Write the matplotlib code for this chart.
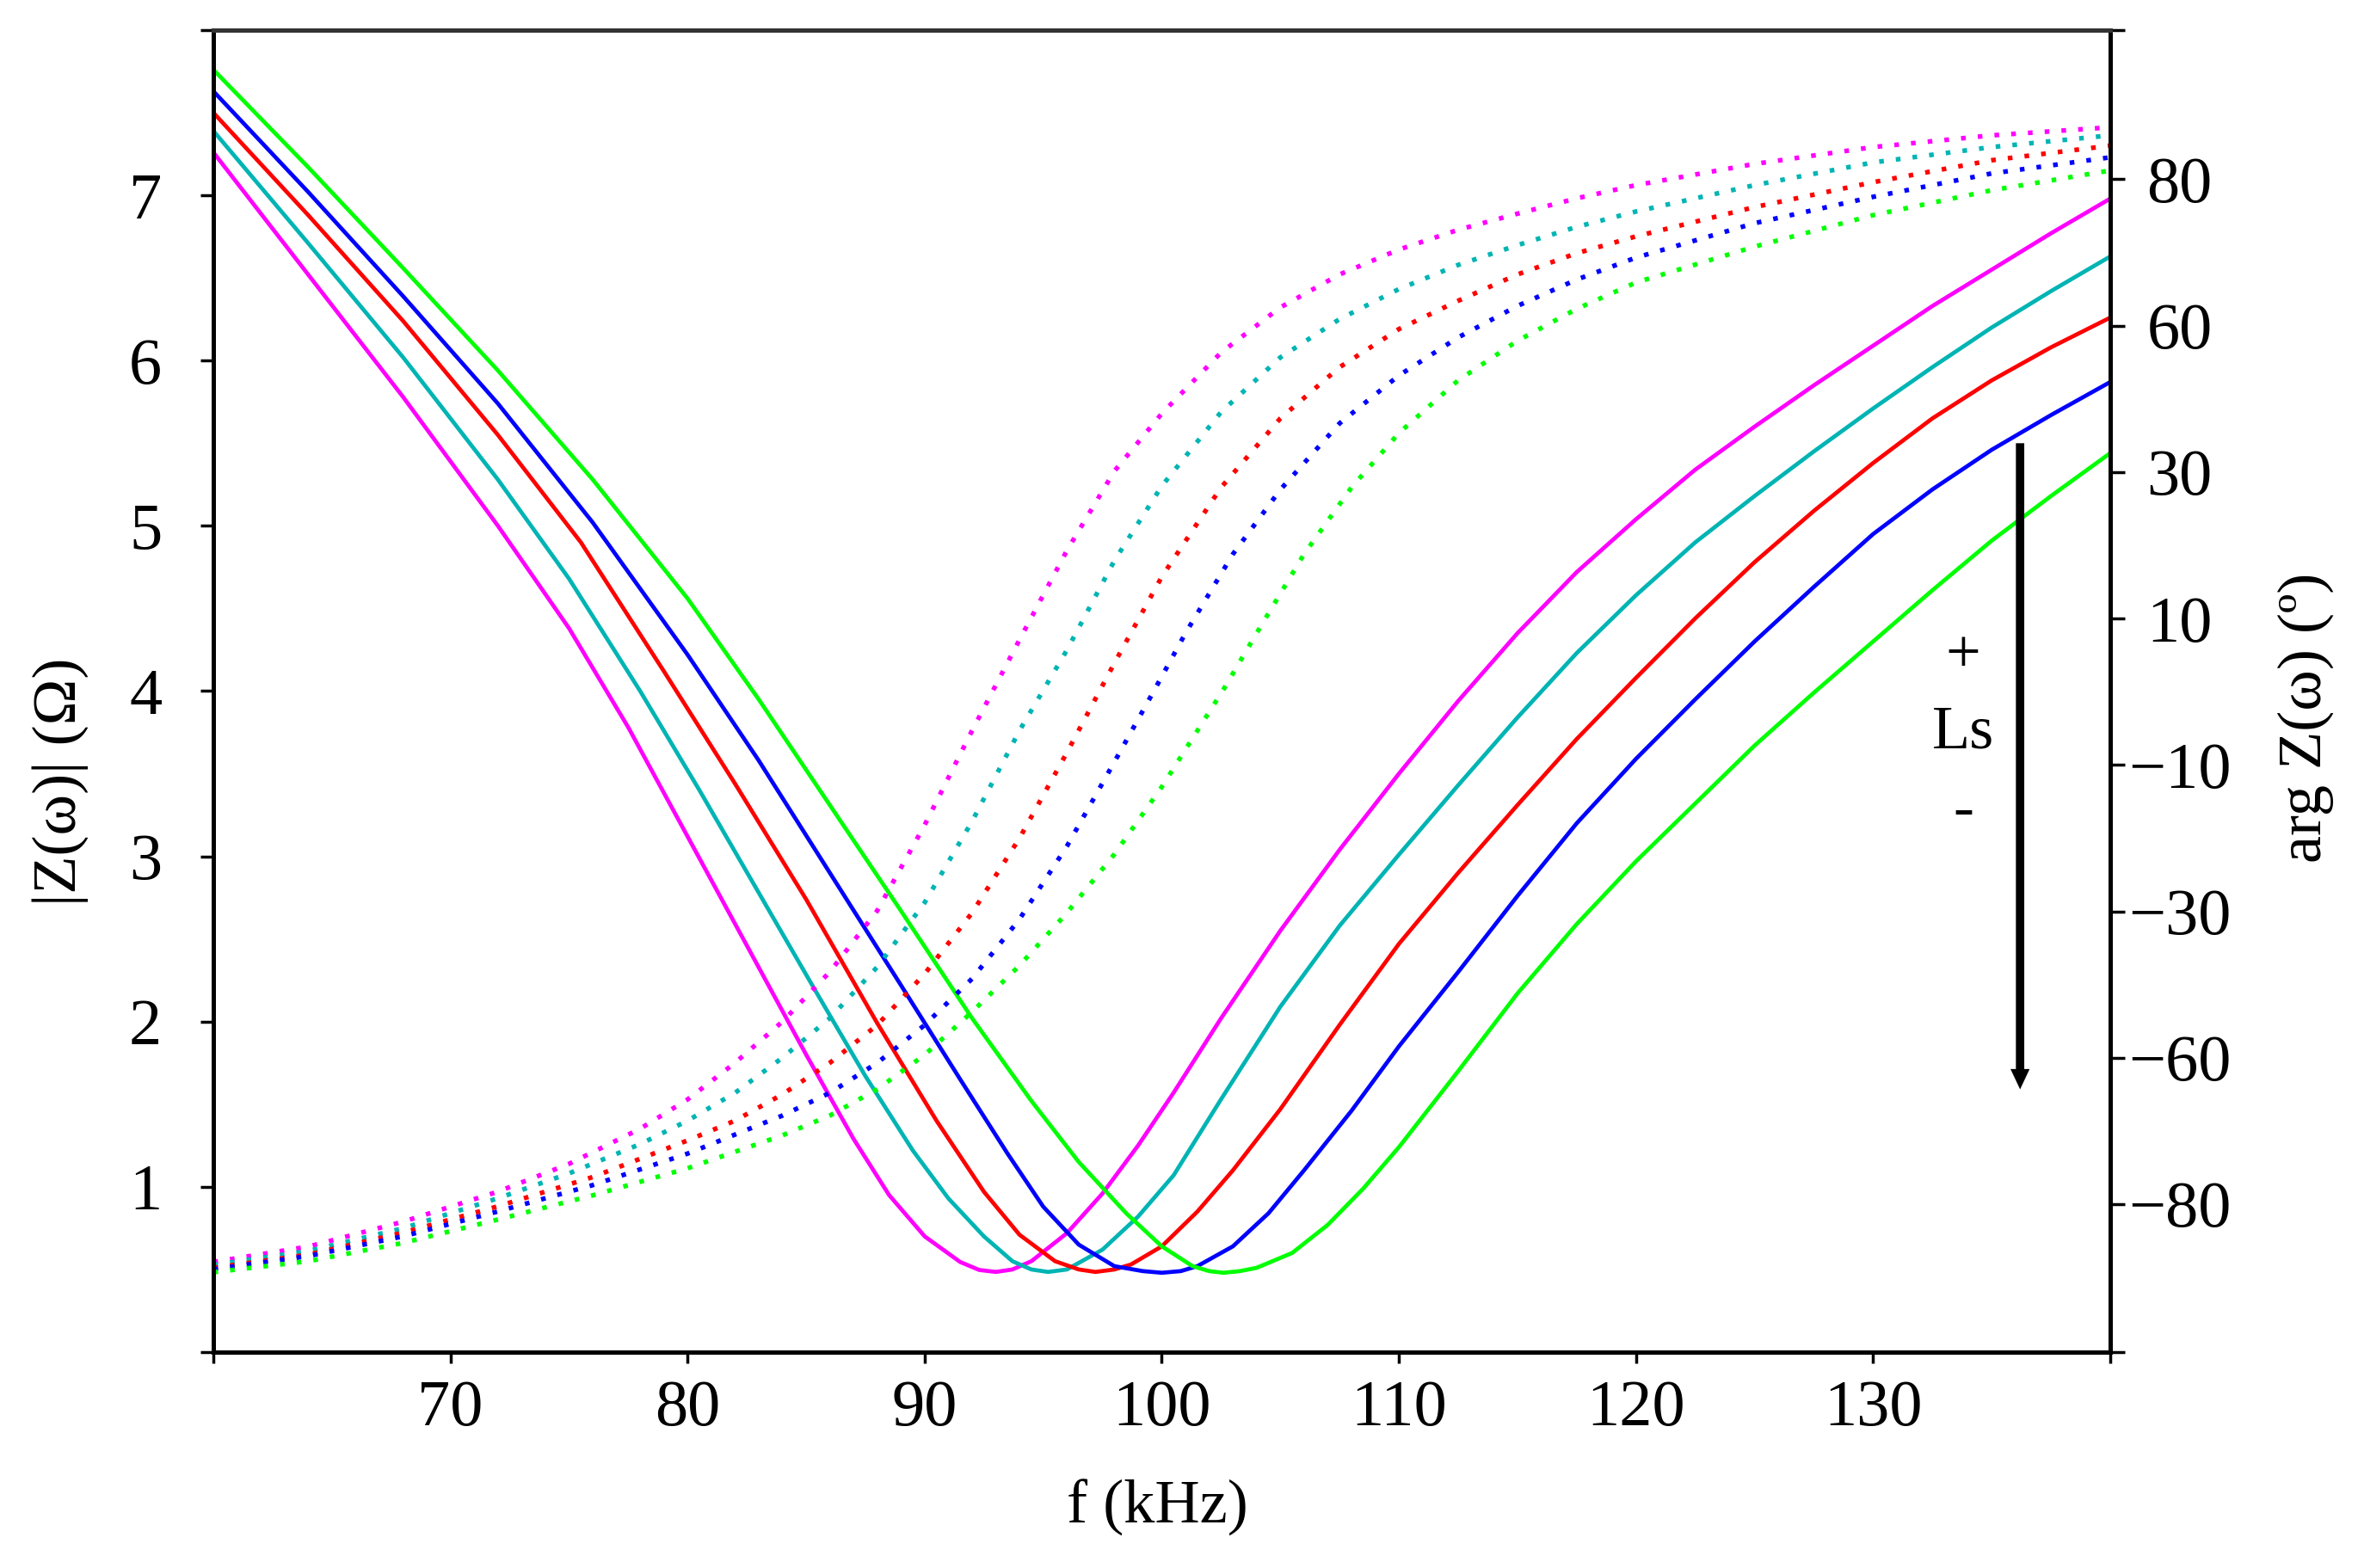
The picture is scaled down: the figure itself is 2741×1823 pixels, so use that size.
import numpy as np
import matplotlib
matplotlib.use("Agg")
import matplotlib.pyplot as plt

plt.rcParams["font.family"] = ["Liberation Serif", "DejaVu Serif"]

# |Z| curves (solid), f in kHz, |Z| in ohm
mag_f_m = [60, 64, 68, 72, 75, 77.5, 80, 82.5, 85, 87, 88.5, 90, 91.5, 92.3, 93.0, 93.7, 94.5, 96, 97.5,
           99, 100.5, 102.5, 105, 107.5, 110, 112.5, 115, 117.5, 120, 122.5, 125, 127.5, 130, 132.5,
           135, 137.5, 140]
mag_z_m = [7.26, 6.52, 5.78, 5.00, 4.38, 3.78, 3.12, 2.46, 1.80, 1.29, 0.95, 0.70, 0.545, 0.497, 0.485,
           0.50, 0.55, 0.72, 0.96, 1.25, 1.57, 2.02, 2.55, 3.04, 3.50, 3.94, 4.35, 4.72, 5.04, 5.34,
           5.60, 5.85, 6.09, 6.33, 6.55, 6.77, 6.98]

mag_f_c = [60, 64, 68, 72, 75, 78, 80.5, 83, 85.5, 87.5, 89.5, 91, 92.5, 93.7, 94.5, 95.2, 96, 97.5, 99,
           100.5, 102.5, 105, 107.5, 110, 112.5, 115, 117.5, 120, 122.5, 125, 127.5, 130, 132.5, 135,
           137.5, 140]
mag_z_c = [7.39, 6.71, 6.02, 5.28, 4.68, 4.00, 3.40, 2.78, 2.16, 1.67, 1.22, 0.93, 0.70, 0.55, 0.50,
           0.485, 0.50, 0.62, 0.82, 1.07, 1.53, 2.09, 2.58, 3.01, 3.43, 3.84, 4.23, 4.58, 4.90, 5.18,
           5.45, 5.71, 5.96, 6.20, 6.42, 6.63]

mag_f_r = [60, 64, 68, 72, 75.5, 79, 82, 85, 88, 90.5, 92.5, 94, 95.5, 96.5, 97.2, 98, 98.7, 100, 101.5,
           103, 105, 107.5, 110, 112.5, 115, 117.5, 120, 122.5, 125, 127.5, 130, 132.5, 135, 137.5, 140]
mag_z_r = [7.50, 6.88, 6.24, 5.55, 4.90, 4.12, 3.44, 2.74, 1.99, 1.40, 0.97, 0.71, 0.55, 0.50, 0.485,
           0.50, 0.53, 0.64, 0.85, 1.10, 1.47, 1.98, 2.47, 2.90, 3.31, 3.71, 4.08, 4.44, 4.78, 5.09,
           5.38, 5.65, 5.88, 6.08, 6.26]

mag_f_b = [60, 64, 68, 72, 76, 80, 83, 86, 89, 91.5, 93.5, 95, 96.5, 98, 99.2, 100, 100.8, 101.5, 103,
           104.5, 106, 108, 110, 112.5, 115, 117.5, 120, 122.5, 125, 127.5, 130, 132.5, 135, 137.5, 140]
mag_z_b = [7.63, 7.02, 6.39, 5.74, 5.02, 4.22, 3.58, 2.90, 2.22, 1.65, 1.20, 0.88, 0.65, 0.52, 0.49,
           0.48, 0.49, 0.52, 0.64, 0.84, 1.10, 1.46, 1.85, 2.30, 2.76, 3.20, 3.59, 3.95, 4.30, 4.63,
           4.95, 5.22, 5.46, 5.67, 5.87]

mag_f_g = [60, 64, 68, 72, 76, 80, 83, 86, 89, 92, 94.5, 96.5, 98.5, 100, 101.3, 102, 102.6, 103.3, 104,
           105.5, 107, 108.5, 110, 112.5, 115, 117.5, 120, 122.5, 125, 127.5, 130, 132.5, 135, 137.5, 140]
mag_z_g = [7.76, 7.17, 6.56, 5.94, 5.28, 4.56, 3.95, 3.31, 2.67, 2.02, 1.52, 1.15, 0.84, 0.64, 0.52,
           0.49, 0.48, 0.49, 0.51, 0.60, 0.77, 0.99, 1.24, 1.70, 2.17, 2.59, 2.97, 3.32, 3.67, 3.99,
           4.30, 4.61, 4.91, 5.18, 5.44]

# arg Z curves (dotted), degrees
ph_f_m = [60, 64, 68, 72, 75, 78, 80, 82, 84, 86, 88, 90, 92, 94, 96, 98, 100, 102.5, 105, 107.5, 110,
          112.5, 115, 117.5, 120, 125, 130, 135, 140]
ph_d_m = [-87.9, -85.8, -82.4, -78.3, -74.5, -69.7, -65.7, -60.7, -52.6, -42.4, -29.9, -18.2, -5.3, 7.1,
          19.3, 30.2, 42.0, 54.5, 62.5, 67.0, 70.4, 73.1, 75.3, 77.4, 79.2, 82.1, 84.4, 86.0, 87.1]

ph_f_c = [60, 64, 68, 72, 75, 78, 80, 82, 84, 86, 88, 90, 92, 94, 96, 98, 100, 102.5, 105, 107.5, 110,
          112.5, 115, 117.5, 120, 125, 130, 135, 140]
ph_d_c = [-88.3, -86.4, -83.3, -79.2, -75.8, -71.8, -68.6, -64.8, -60.0, -51.9, -41.4, -28.8, -17.7,
          -5.3, 5.7, 17.9, 28.1, 42.3, 53.5, 60.9, 65.0, 68.3, 71.0, 73.5, 75.6, 79.2, 82.3, 84.4, 86.0]

ph_f_r = [60, 64, 68, 72, 76, 80, 82, 84, 86, 88, 90, 92, 94, 96, 98, 100, 102.5, 105, 107.5, 110, 112.5,
          115, 117.5, 120, 125, 130, 135, 140]
ph_d_r = [-88.7, -86.9, -83.9, -80.3, -76.3, -71.3, -68.6, -65.0, -60.7, -53.3, -42.8, -30.3, -20.0,
          -8.3, 3.9, 15.7, 27.9, 41.0, 51.5, 59.3, 63.4, 67.0, 69.9, 72.2, 76.2, 79.6, 82.6, 84.6]

ph_f_b = [60, 64, 68, 72, 76, 80, 84, 86, 88, 90, 92, 94, 96, 98, 99.7, 101, 103, 105, 107.5, 110, 112.5,
          115, 117.5, 120, 125, 130, 135, 140]
ph_d_b = [-88.9, -87.1, -84.4, -81.0, -77.4, -73.1, -67.9, -64.8, -60.7, -53.3, -43.8, -31.6, -21.1,
          -9.6, 0.3, 8.0, 18.8, 27.6, 40.0, 49.8, 57.6, 62.7, 66.3, 69.3, 74.0, 77.6, 80.8, 83.0]

ph_f_g = [60, 64, 68, 72, 76, 80, 84, 86, 88, 90, 92, 94, 96, 98, 100, 102.6, 104, 106, 108, 110, 112.5,
          115, 117.5, 120, 125, 130, 135, 140]
ph_d_g = [-89.3, -87.8, -85.3, -82.1, -78.8, -75.1, -70.6, -67.9, -64.3, -59.4, -50.6, -41.1, -30.3,
          -22.2, -13.0, 0.3, 8.0, 18.8, 27.9, 38.0, 48.8, 56.9, 62.3, 65.9, 70.8, 75.1, 78.5, 81.2]

colors = ["#FF00FF", "#00B4B4", "#FF0000", "#0000FF", "#00FF00"]
mag_series = [(mag_f_m, mag_z_m), (mag_f_c, mag_z_c), (mag_f_r, mag_z_r),
              (mag_f_b, mag_z_b), (mag_f_g, mag_z_g)]
ph_series = [(ph_f_m, ph_d_m), (ph_f_c, ph_d_c), (ph_f_r, ph_d_r),
             (ph_f_b, ph_d_b), (ph_f_g, ph_d_g)]

# right axis: evenly spaced but non-linear degree ticks
phase_ticks = [-80, -60, -30, -10, 10, 30, 60, 80]
deg_nodes = [-200, -100.21, -80, -60, -30, -10, 10, 30, 60, 80, 100.38, 200]
idx_nodes = [-6.0, -1.0106, 0, 1, 2, 3, 4, 5, 6, 7, 8.019, 13.0]


def fwd(d):
    return np.interp(d, deg_nodes, idx_nodes)


def inv(i):
    return np.interp(i, idx_nodes, deg_nodes)


FS = 52
TFS = 55

fig = plt.figure(figsize=(27.41, 18.23), dpi=100)
ax = fig.add_axes([0.0905, 0.1377, 0.8044, 0.8431])
ax2 = ax.twinx()
ax2.set_yscale("function", functions=(fwd, inv))

for (f, d), c in zip(ph_series, colors):
    ax2.plot(f, d, color=c, lw=3.9, linestyle=(0, (1, 2.6)), dash_capstyle="butt")
for (f, z), c in zip(mag_series, colors):
    ax.plot(f, z, color=c, lw=3.4)

ax.set_xlim(60, 140)
ax.set_ylim(0, 8)
ax2.set_ylim(-100.21, 100.38)

ax.set_xticks(range(60, 141, 10), [""] + [str(v) for v in range(70, 131, 10)] + [""])
ax.set_yticks(range(0, 9), [""] + [str(v) for v in range(1, 8)] + [""])
ax2.set_yticks([-100.21] + phase_ticks + [100.38],
               [""] + [str(v).replace("-", "\u2212") for v in phase_ticks] + [""], ha="center")

ax.tick_params(axis="x", direction="out", length=9, width=2.5, labelsize=TFS, pad=14)
ax.tick_params(axis="y", direction="out", length=11, width=2.5, labelsize=TFS, pad=32)
ax2.tick_params(axis="y", direction="out", length=12, width=2.5, labelsize=TFS, pad=46)

for a in (ax, ax2):
    for s in a.spines.values():
        s.set_linewidth(3.6)
    a.spines["top"].set_color("#333333")

# Ls arrow
ax.annotate("", xy=(136.2, 1.59), xytext=(136.2, 5.50),
            arrowprops=dict(facecolor="black", edgecolor="black", linewidth=0,
                            width=7, headwidth=16, headlength=17, shrink=0))
ax.text(133.8, 4.21, "+", fontsize=FS, ha="center", va="center")
ax.text(133.8, 3.75, "Ls", fontsize=FS, ha="center", va="center")
ax.text(133.8, 3.27, "-", fontsize=FS, ha="center", va="center")

fig.text(0.0255, 0.5014, "|Z(ω)| (Ω)", rotation=90, fontsize=FS, ha="center", va="center")
fig.text(0.9777, 0.5425, "arg Z(ω) (º)", rotation=90, fontsize=FS, ha="center", va="center")
fig.text(0.491, 0.0384, "f (kHz)", fontsize=FS, ha="center", va="center")

fig.savefig("out.png", dpi=100)
